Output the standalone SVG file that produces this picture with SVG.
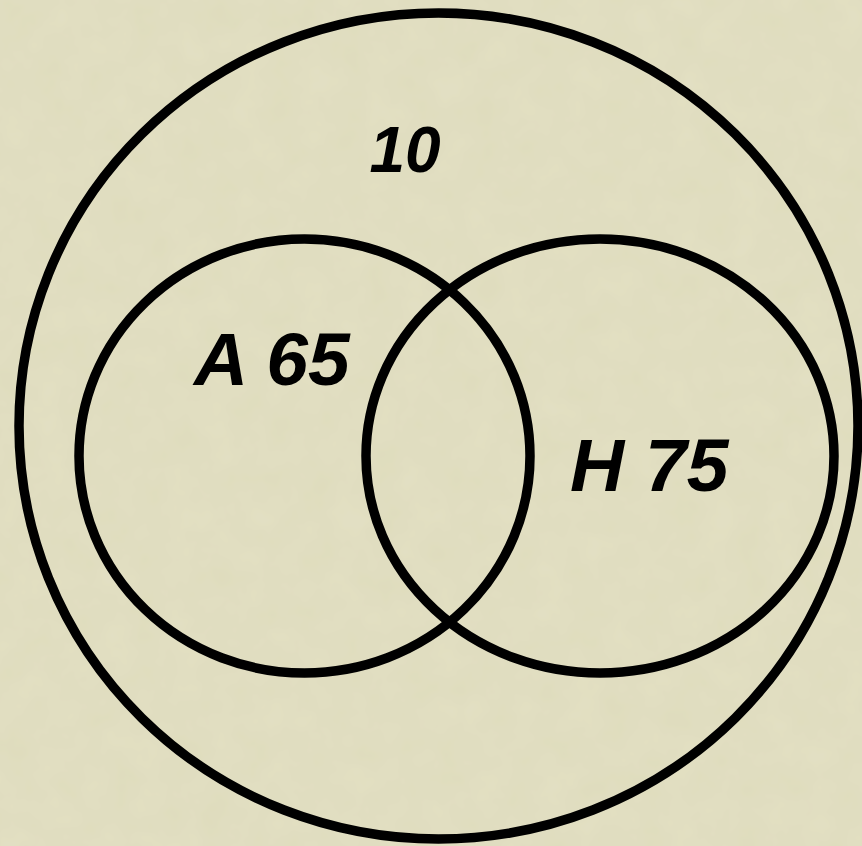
<svg xmlns="http://www.w3.org/2000/svg" width="862" height="846" viewBox="0 0 862 846">
<defs>
<style>
.ring{fill:none;stroke:#000;stroke-width:9.5}
.lbl{font-family:"Liberation Sans",Arial,sans-serif;font-weight:bold;font-style:italic;fill:#000}
</style>
<filter id="tex" x="0" y="0" width="100%" height="100%">
<feTurbulence type="fractalNoise" baseFrequency="0.03" numOctaves="3" seed="4" result="n"/>
<feColorMatrix in="n" type="matrix" values="0 0 0 0 0.93  0 0 0 0 0.92  0 0 0 0 0.80  0 0 0 0.25 0"/>
<feComposite in2="SourceGraphic" operator="over"/>
</filter>
</defs>
<rect width="862" height="846" fill="#dfdcbd"/>
<rect width="862" height="846" fill="#dfdcbd" filter="url(#tex)" opacity="0.6"/>
<g id="universe">
<ellipse class="ring" cx="438.5" cy="426" rx="419.5" ry="413"/>
<text class="lbl" x="405" y="172" font-size="64" text-anchor="middle">10</text>
</g>
<g id="setA">
<ellipse class="ring" cx="304.5" cy="456" rx="225.5" ry="217"/>
<text class="lbl" x="194" y="385" font-size="75">A 65</text>
</g>
<g id="setH">
<ellipse class="ring" cx="600" cy="456" rx="234" ry="217"/>
<text class="lbl" x="570" y="491" font-size="75">H 75</text>
</g>
</svg>
